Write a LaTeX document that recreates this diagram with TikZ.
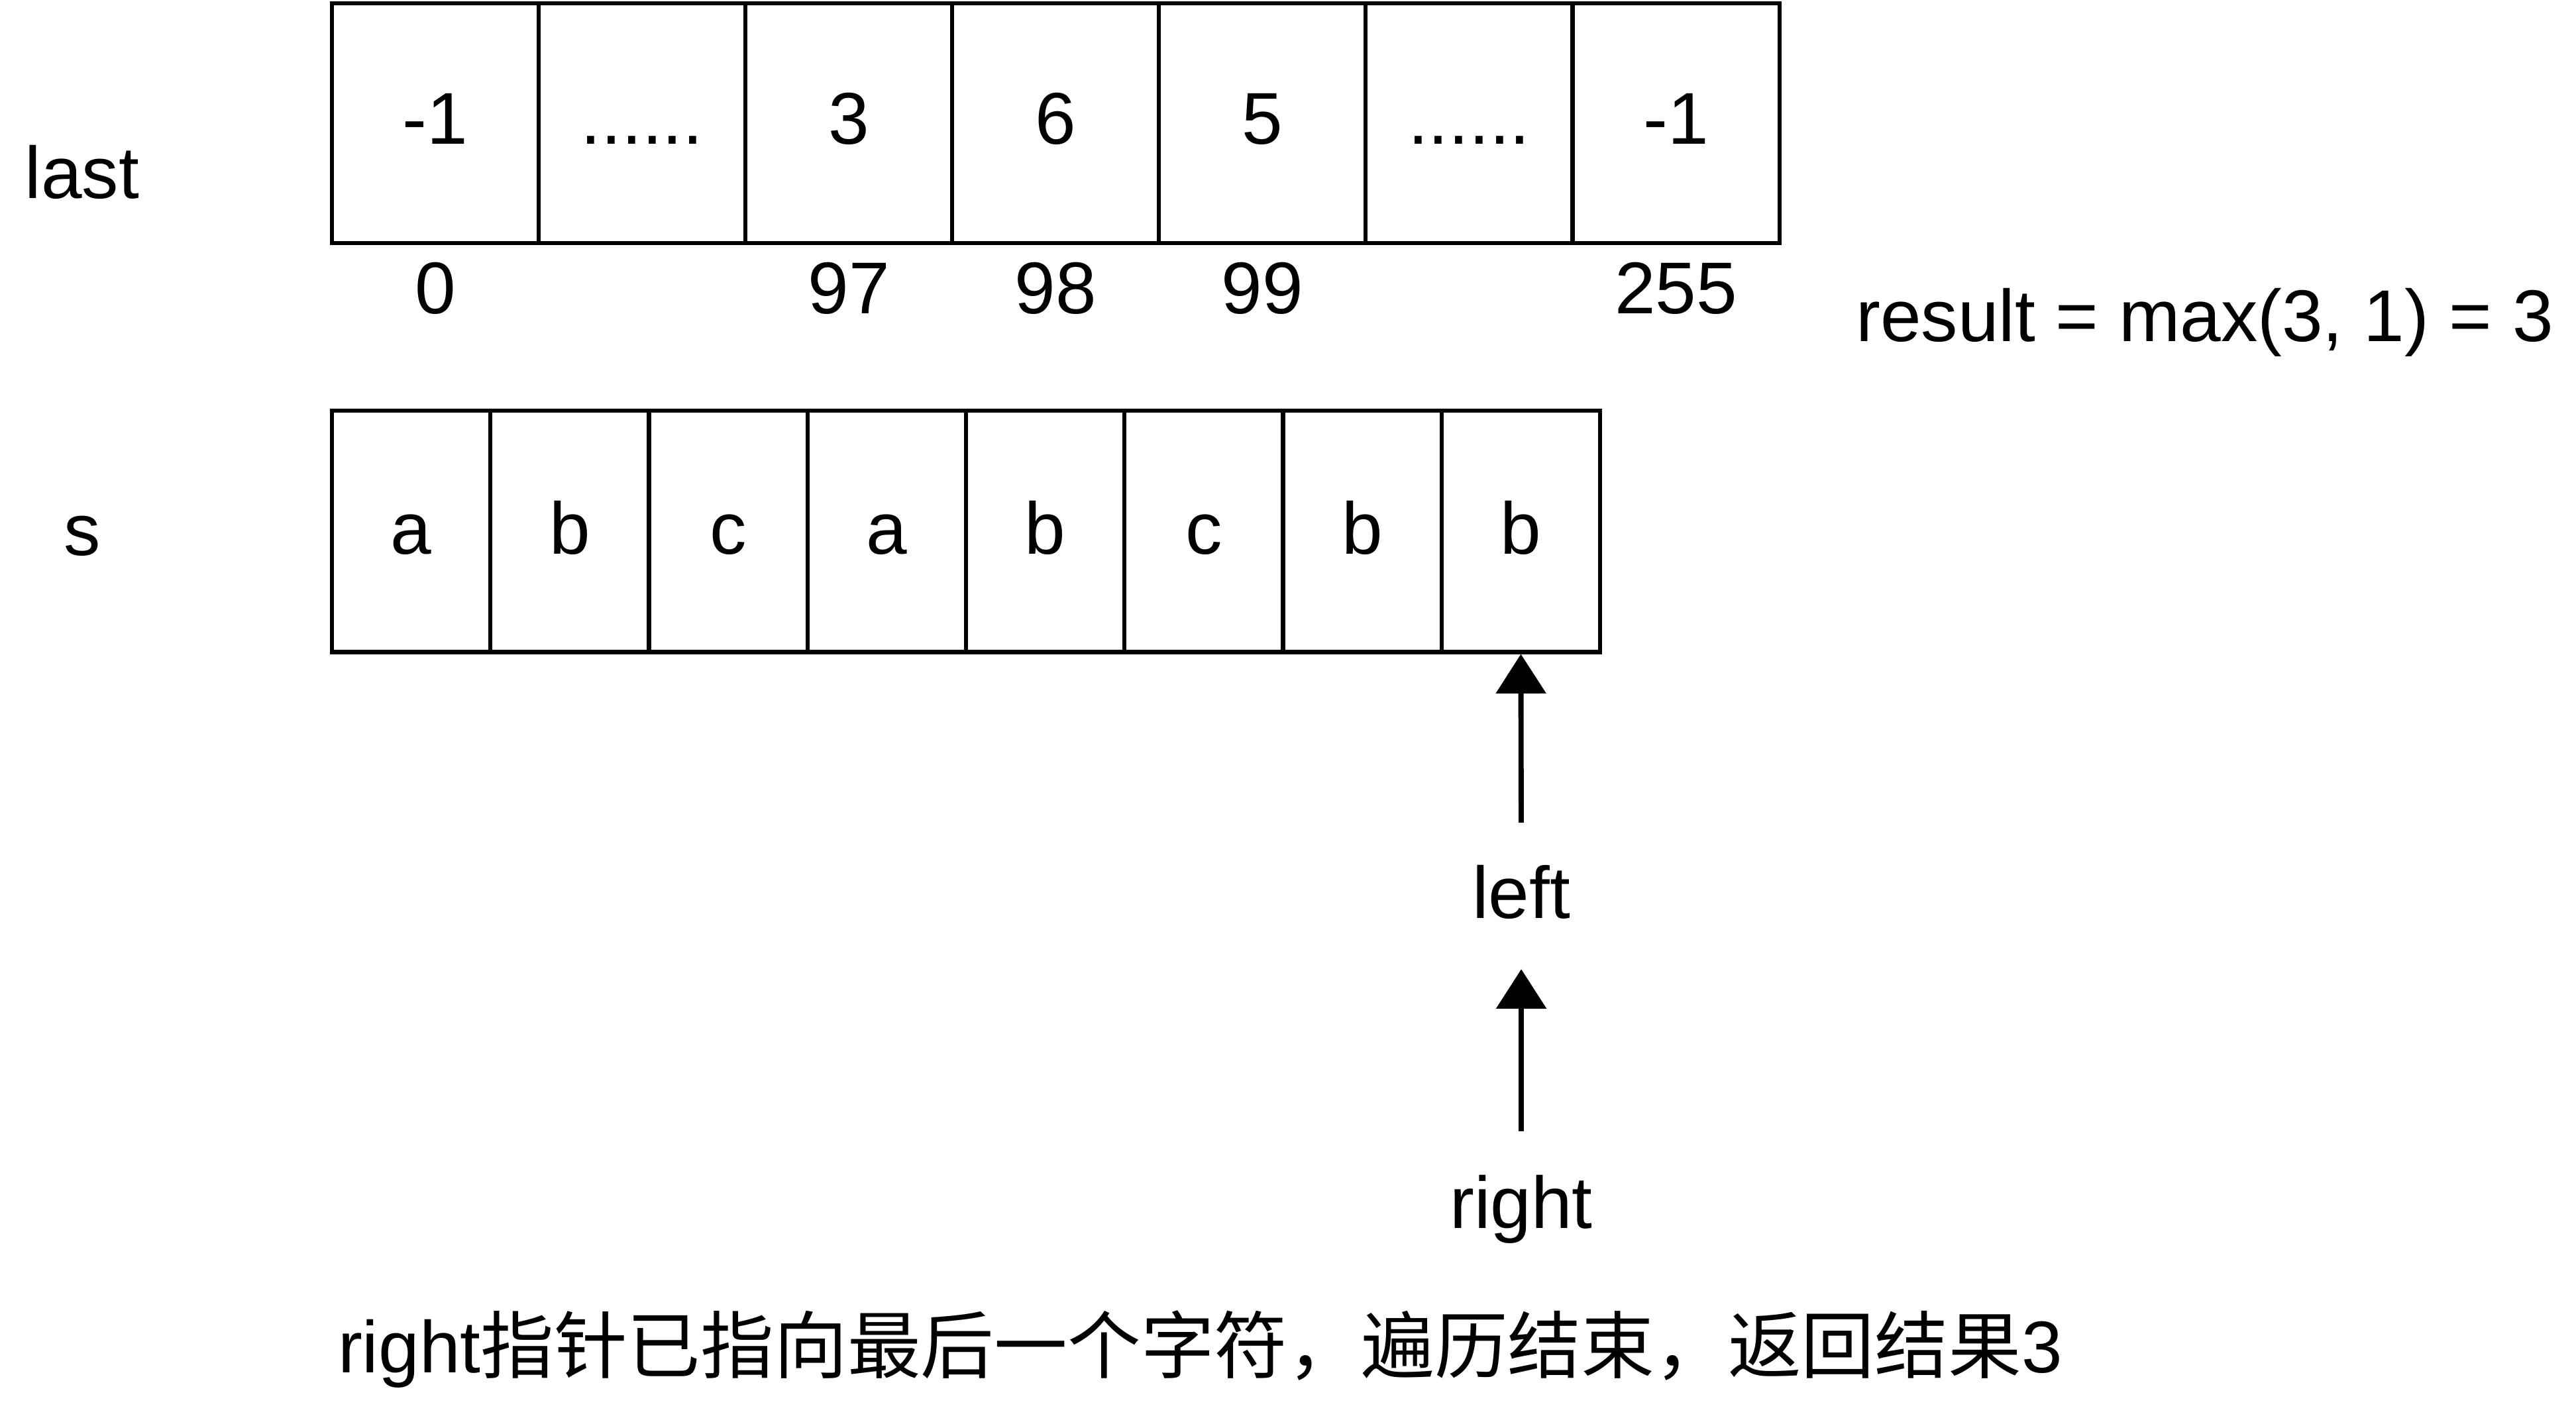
\documentclass[tikz,border=0pt]{standalone}
\usepackage{fontspec}
\setmainfont{Liberation Sans}
\newfontfamily\cjk{Noto Sans CJK SC}
\usetikzlibrary{arrows.meta}

\newcommand{\sixdots}{......}

\begin{document}
\begin{tikzpicture}[x=0.01cm, y=-0.01cm,
    every node/.style={font=\fontsize{12.7}{15}\selectfont, inner sep=0pt},
    lastcell/.style={draw, line width=0.7pt, minimum width=1.259cm, minimum height=1.46cm, text height=0.73em, text depth=0pt},
    scell/.style={draw, line width=0.7pt, minimum width=0.965cm, minimum height=1.47cm, text height=0.8em, text depth=0pt},
    ptr/.style={-{Triangle[width=3mm,length=2.4mm]}, line width=0.9pt}]

    \useasboundingbox (0,0) rectangle (1568,868);

    % last array
    \foreach \v [count=\i] in {-1,\sixdots,3,6,5,\sixdots,-1}
        \node [lastcell] (last\i) at ({202+125.86*(\i-0.5)},75) {\v};
    \foreach \i/\n in {1/0,3/97,4/98,5/99,7/255}
        \node [anchor=base] (idx\i) at ({202+125.86*(\i-0.5)},191) {\n};
    \node [anchor=base] (lastlbl) at (50,121) {last};
    \node [anchor=base] (result) at (1342,208) {result = max(3, 1) = 3};

    % s array
    \foreach \v [count=\i] in {a,b,c,a,b,c,b,b}
        \node [scell] (s\i) at ({202+96.5*(\i-0.5)},323.5) {\v};
    \node [anchor=base] (slbl) at (50,338) {s};

    % pointers
    \node [anchor=base] (left) at (926,559) {left};
    \node [anchor=base] (right) at (926,748) {right};
    \draw [ptr, shorten <=0.25cm] (left.north) -- (s8.south);
    \draw [ptr, shorten <=0.26cm, shorten >=0.3cm] (right.north) -- (left.south);

    \node [anchor=base west] (note) at (205,836) {right{\cjk 指针已指向最后一个字符，遍历结束，返回结果}3};
\end{tikzpicture}
\end{document}
